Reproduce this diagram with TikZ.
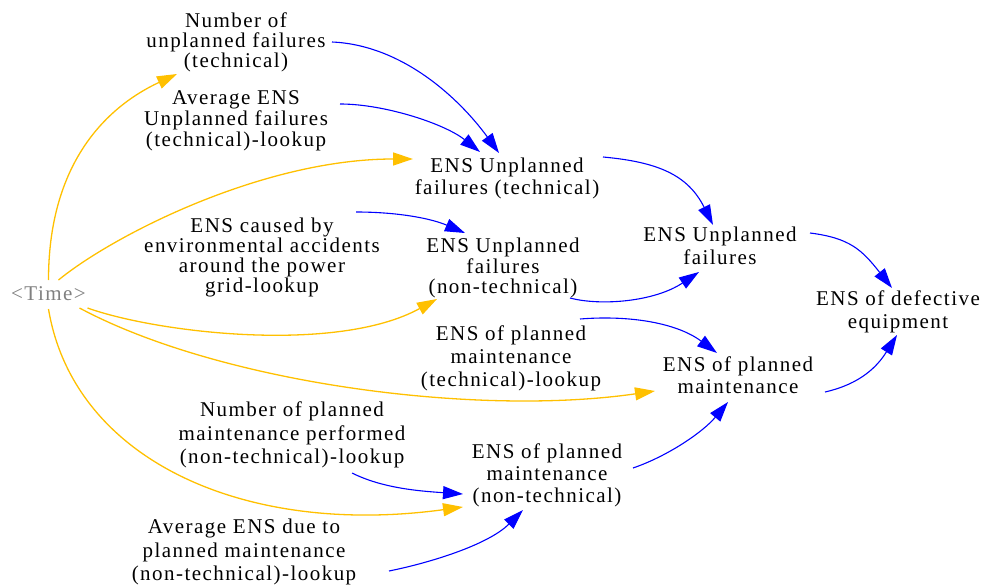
\documentclass[tikz,border=0pt]{standalone}
\usepackage{fontspec}
\setmainfont{Liberation Serif}[LetterSpace=7]
\usetikzlibrary{arrows.meta}
\definecolor{linkblue}{RGB}{0,0,255}
\definecolor{timegold}{RGB}{255,192,0}
\definecolor{shadowgray}{RGB}{128,128,128}
\tikzset{
  var/.style={font=\fontsize{21pt}{#1pt}\selectfont, align=center, inner sep=0pt, anchor=center},
  var/.default=22,
  link/.style={draw=linkblue, line width=1.1pt, -{Triangle[length=20pt,width=13pt]}},
  timelink/.style={draw=timegold, line width=1.3pt, -{Triangle[length=20pt,width=13pt]}}
}
\begin{document}
\begin{tikzpicture}[x=1pt,y=-1pt]
\useasboundingbox (0,0) rectangle (987,588);

% variables
\node[var=20]   (nuf)  at (236,42)  {Number of\\unplanned failures\\(technical)};
\node[var=21]   (aens) at (236,121) {Average ENS\\Unplanned failures\\(technical)-lookup};
\node[var=22]   (eut)  at (507,178) {ENS Unplanned\\failures (technical)};
\node[var=20]   (env)  at (262,257) {ENS caused by\\environmental accidents\\around the power\\grid-lookup};
\node[var=20.5] (eun)  at (503,268) {ENS Unplanned\\failures\\(non-technical)};
\node[var=23]   (eu)   at (720,246) {ENS Unplanned\\failures};
\node[var=22.5] (edef) at (898,312) {ENS of defective\\equipment};
\node[var=23]   (eplt) at (511,358) {ENS of planned\\maintenance\\(technical)-lookup};
\node[var=22]   (epm)  at (738,375) {ENS of planned\\maintenance};
\node[var=23.3] (npm)  at (292,435) {Number of planned\\maintenance performed\\(non-technical)-lookup};
\node[var=22]   (epn)  at (547,475) {ENS of planned\\maintenance\\(non-technical)};
\node[var=23.3] (aepm) at (244,552) {Average ENS due to\\planned maintenance\\(non-technical)-lookup};
\node[var, text=shadowgray] (time) at (48.5,294) {<Time>};

% causal links
\draw[link] ([shift={(96,0)}]nuf.center)    .. controls +(70,3) and +(-40,-55) .. ([shift={(-8,-25)}]eut.center);
\draw[link] ([shift={(104,-17)}]aens.center) .. controls +(45,0) and +(-35,-28) .. ([shift={(-27,-26)}]eut.center);
\draw[link] ([shift={(96,-21)}]eut.center)  .. controls +(55,5) and +(-25,-50) .. ([shift={(-7,-21)}]eu.center);
\draw[link] ([shift={(94,-45)}]env.center)  .. controls +(40,0) and +(-35,-15) .. ([shift={(-38,-35)}]eun.center);
\draw[link] ([shift={(67,30)}]eun.center)   .. controls +(30,8) and +(-45,30) .. ([shift={(-21,26)}]eu.center);
\draw[link] ([shift={(90,-13)}]eu.center)   .. controls +(40,5) and +(-30,-38) .. ([shift={(-6,-24)}]edef.center);
\draw[link] ([shift={(69,-39)}]eplt.center) .. controls +(50,-4) and +(-40,-30) .. ([shift={(-21,-22)}]epm.center);
\draw[link] ([shift={(87,17)}]epm.center)   .. controls +(35,-8) and +(-20,32) .. ([shift={(-1,23)}]edef.center);
\draw[link] ([shift={(86,-7)}]epn.center)   .. controls +(35,-12) and +(-25,30) .. ([shift={(-10,27)}]epm.center);
\draw[link] ([shift={(60,38)}]npm.center)   .. controls +(30,15) and +(-45,-3) .. ([shift={(-84,19)}]epn.center);
\draw[link] ([shift={(145,19)}]aepm.center) .. controls +(40,-8) and +(-35,35) .. ([shift={(-24,35)}]epn.center);

% links from Time
\draw[timelink] ([shift={(0,-14)}]time.center)  .. controls +(0,-110) and +(-77,36) .. ([shift={(-59,32)}]nuf.center);
\draw[timelink] ([shift={(10,-14)}]time.center) .. controls +(55,-45) and +(-150,0) .. ([shift={(-94,-19)}]eut.center);
\draw[timelink] ([shift={(39,14)}]time.center)  .. controls +(70,25) and +(-100,55) .. ([shift={(-66,31)}]eun.center);
\draw[timelink] ([shift={(31,14)}]time.center)  .. controls +(140,75) and +(-180,26) .. ([shift={(-83,16)}]epm.center);
\draw[timelink] ([shift={(0,15)}]time.center)   .. controls +(25,150) and +(-220,30) .. ([shift={(-84,32)}]epn.center);
\end{tikzpicture}
\end{document}
